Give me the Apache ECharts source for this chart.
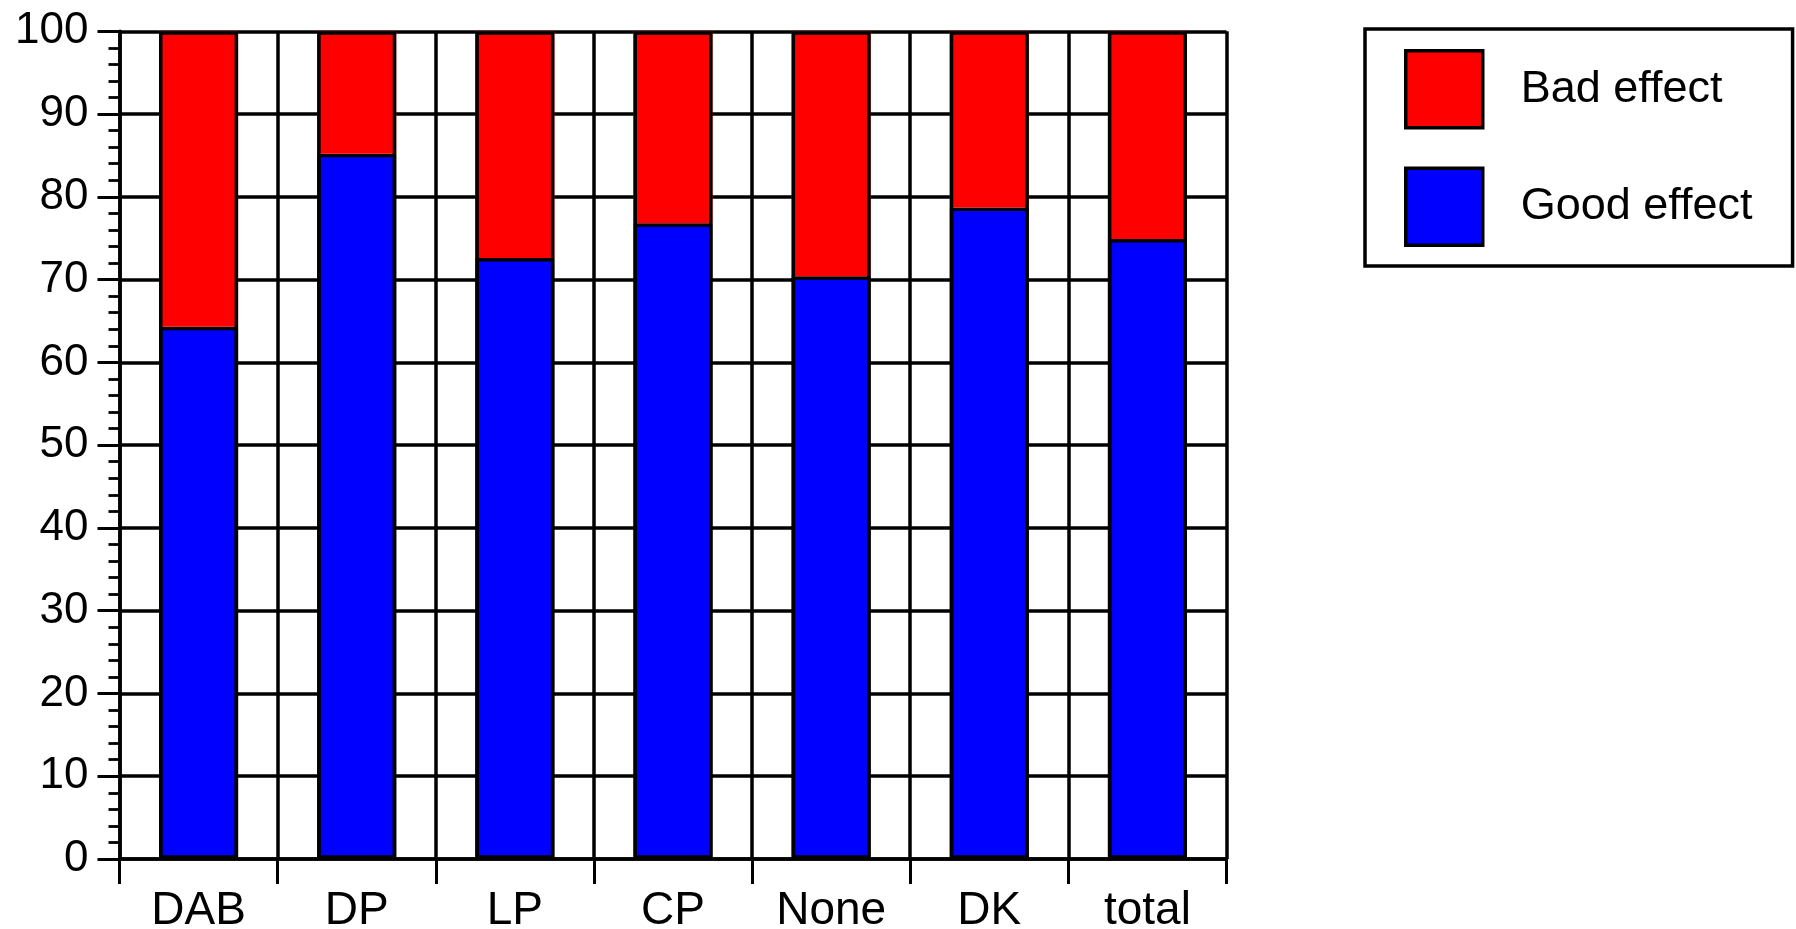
<!DOCTYPE html>
<html>
<head>
<meta charset="utf-8">
<script src="https://cdn.jsdelivr.net/npm/echarts@6/dist/echarts.min.js"></script>
<style>
html,body{margin:0;padding:0;background:#fff;}
#chart{width:1796px;height:929px;}
</style>
</head>
<body>
<div id="chart"></div>
<script>
const categories = ['DAB', 'DP', 'LP', 'CP', 'None', 'DK', 'total'];
const goodEffect = [64.3, 85.2, 72.6, 76.8, 70.4, 78.7, 74.9];
const badEffect = [35.7, 14.8, 27.4, 23.2, 29.6, 21.3, 25.1];
const yTicks = { min: 0, max: 100, interval: 10 };

// total height of each stacked bar (used only to draw the outer outline)
const totals = goodEffect.map((g, i) => +(g + badEffect[i]).toFixed(1));

const FONT = '"Liberation Sans", Arial, Helvetica, sans-serif';
const LW = 3.5;
const chart = echarts.init(document.getElementById('chart'), null, { renderer: 'canvas' });
chart.setOption({
  animation: false,
  backgroundColor: '#ffffff',
  textStyle: { fontFamily: FONT },
  grid: { left: 119.5, right: 569.5, top: 31.3, bottom: 70, containLabel: false, outerBoundsMode: 'none' },
  legend: {
    orient: 'vertical',
    left: 1365,
    top: 29,
    padding: [20, 40, 19, 39],
    borderColor: '#000',
    borderWidth: LW,
    borderRadius: 0,
    itemWidth: 77,
    itemHeight: 77,
    itemGap: 37,
    icon: 'rect',
    textStyle: { fontFamily: FONT, fontSize: 45, color: '#000', padding: [0, 0, 0, 33] },
    data: [
      { name: 'Bad effect', itemStyle: { color: '#ff0000', borderColor: '#000', borderWidth: LW } },
      { name: 'Good effect', itemStyle: { color: '#0000ff', borderColor: '#000', borderWidth: LW } }
    ]
  },
  xAxis: {
    type: 'category',
    data: categories,
    boundaryGap: true,
    axisLine: { show: true, lineStyle: { color: '#000', width: LW } },
    axisTick: { show: true, length: 25, lineStyle: { color: '#000', width: 3 } },
    axisLabel: { color: '#000', fontSize: 46, fontFamily: FONT, margin: 29 },
    splitLine: { show: true, lineStyle: { color: '#000', width: LW } }
  },
  yAxis: {
    type: 'value',
    min: yTicks.min,
    max: yTicks.max,
    interval: yTicks.interval,
    axisLine: { show: true, lineStyle: { color: '#000', width: LW } },
    axisTick: { show: true, length: 22, lineStyle: { color: '#000', width: 3 } },
    minorTick: { show: true, splitNumber: 5, length: 11, lineStyle: { color: '#000', width: 2.8 } },
    axisLabel: { color: '#000', fontSize: 44, fontFamily: FONT, margin: 31 },
    splitLine: { show: true, lineStyle: { color: '#000', width: LW } }
  },
  series: [
    {
      name: 'Good effect',
      type: 'bar',
      stack: 'total',
      data: goodEffect,
      barWidth: '50%',
      barGap: '-100%',
      itemStyle: { color: '#0000ff', borderColor: '#000', borderWidth: LW }
    },
    {
      name: 'Bad effect',
      type: 'bar',
      stack: 'total',
      data: badEffect,
      barWidth: '50%',
      barGap: '-100%',
      itemStyle: { color: '#ff0000', borderWidth: 0 }
    },
    {
      name: 'outline',
      type: 'bar',
      data: totals,
      barWidth: '50%',
      barGap: '-100%',
      silent: true,
      itemStyle: { color: 'rgba(0,0,0,0)', borderColor: '#000', borderWidth: LW }
    }
  ]
});
</script>
</body>
</html>
